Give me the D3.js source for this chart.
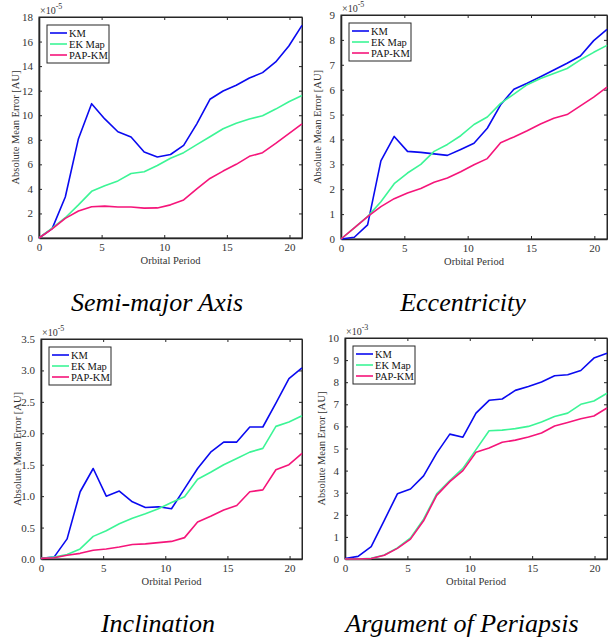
<!DOCTYPE html>
<html>
<head>
<meta charset="utf-8">
<script src="https://cdn.jsdelivr.net/npm/d3@7"></script>
<style>
  body { margin: 0; background: #fff; }
</style>
</head>
<body>
<div id="chart"></div>
<script>
// data
var periods = [0, 1.05, 2.1, 3.15, 4.2, 5.25, 6.3, 7.35, 8.4, 9.45, 10.5, 11.55, 12.6, 13.65, 14.7, 15.75, 16.8, 17.85, 18.9, 19.95, 21];
var seriesNames = ['KM', 'EK Map', 'PAP-KM'];
var xTicks = [0, 5, 10, 15, 20];

// semi-major axis (x1e-5)
var smaKM  = [0, 0.76, 3.34, 8.09, 10.94, 9.7, 8.65, 8.23, 7.0, 6.6, 6.8, 7.55, 9.3, 11.3, 11.97, 12.44, 13.03, 13.47, 14.34, 15.64, 17.32];
var smaEK  = [0, 0.8, 1.65, 2.7, 3.8, 4.25, 4.65, 5.25, 5.4, 5.9, 6.5, 6.95, 7.6, 8.25, 8.9, 9.35, 9.7, 9.95, 10.5, 11.1, 11.6];
var smaPAP = [0, 0.75, 1.6, 2.2, 2.55, 2.6, 2.52, 2.52, 2.43, 2.45, 2.7, 3.1, 4.0, 4.85, 5.45, 6.0, 6.65, 6.95, 7.7, 8.5, 9.3];
var smaTicks = [0, 2, 4, 6, 8, 10, 12, 14, 16, 18];

// eccentricity (x1e-5)
var eccKM  = [0, 0.07, 0.57, 3.14, 4.12, 3.52, 3.48, 3.42, 3.36, 3.6, 3.85, 4.45, 5.39, 6.02, 6.26, 6.52, 6.79, 7.06, 7.35, 7.97, 8.42];
var eccEK  = [0, 0.45, 0.9, 1.5, 2.22, 2.65, 3.0, 3.52, 3.8, 4.15, 4.6, 4.9, 5.45, 5.82, 6.2, 6.45, 6.65, 6.85, 7.2, 7.5, 7.78];
var eccPAP = [0, 0.45, 0.9, 1.3, 1.62, 1.85, 2.03, 2.28, 2.45, 2.7, 2.98, 3.23, 3.87, 4.1, 4.35, 4.62, 4.85, 5.0, 5.35, 5.7, 6.1];
var eccTicks = [0, 1, 2, 3, 4, 5, 6, 7, 8, 9];

// inclination (x1e-5)
var incKM  = [0.01, 0.03, 0.32, 1.07, 1.44, 1.0, 1.08, 0.91, 0.82, 0.83, 0.8, 1.12, 1.44, 1.7, 1.86, 1.86, 2.1, 2.1, 2.48, 2.87, 3.04];
var incEK  = [0.01, 0.03, 0.07, 0.16, 0.36, 0.45, 0.56, 0.65, 0.72, 0.8, 0.9, 0.99, 1.27, 1.38, 1.5, 1.6, 1.7, 1.76, 2.11, 2.18, 2.28];
var incPAP = [0.01, 0.02, 0.06, 0.09, 0.14, 0.16, 0.19, 0.23, 0.24, 0.26, 0.28, 0.34, 0.59, 0.68, 0.78, 0.85, 1.07, 1.1, 1.42, 1.5, 1.68];
var incTicks = [0, 0.5, 1, 1.5, 2, 2.5, 3, 3.5];

// argument of periapsis (x1e-3)
var aopKM  = [0.02, 0.12, 0.56, 1.75, 2.95, 3.17, 3.76, 4.79, 5.65, 5.51, 6.6, 7.18, 7.24, 7.63, 7.81, 8.01, 8.29, 8.34, 8.53, 9.09, 9.31];
var aopEK  = [0, 0, 0.03, 0.18, 0.5, 0.95, 1.8, 2.95, 3.55, 4.1, 4.95, 5.8, 5.83, 5.9, 6.0, 6.2, 6.45, 6.6, 7.0, 7.15, 7.5];
var aopPAP = [0, 0, 0.02, 0.17, 0.48, 0.9, 1.73, 2.88, 3.5, 4.0, 4.83, 5.02, 5.28, 5.38, 5.52, 5.7, 6.02, 6.18, 6.35, 6.47, 6.83];
var aopTicks = [0, 1, 2, 3, 4, 5, 6, 7, 8, 9, 10];

var colors = ['#0a0af0', '#3cf596', '#f5157a'];
var serif = '"Liberation Serif", "DejaVu Serif", serif';

var panels = [
  {title: 'Semi-major Axis', exp: '-5', series: [smaKM, smaEK, smaPAP], ticks: smaTicks,
   box: {left: 39, right: 302, top: 17, bottom: 238}, titleX: 157, titleY: 311},
  {title: 'Eccentricity', exp: '-5', series: [eccKM, eccEK, eccPAP], ticks: eccTicks,
   box: {left: 341, right: 607, top: 15, bottom: 239}, titleX: 463, titleY: 311},
  {title: 'Inclination', exp: '-5', series: [incKM, incEK, incPAP], ticks: incTicks,
   box: {left: 41, right: 302, top: 339, bottom: 559}, titleX: 158, titleY: 632},
  {title: 'Argument of Periapsis', exp: '-3', series: [aopKM, aopEK, aopPAP], ticks: aopTicks,
   box: {left: 345, right: 607, top: 338, bottom: 559}, titleX: 462, titleY: 632}
];

var svg = d3.select('#chart')
  .append('svg')
  .attr('width', 613)
  .attr('height', 643)
  .style('font-family', serif);

panels.forEach(function(p) {
  var b = p.box;
  var x = d3.scaleLinear().domain([0, 21]).range([b.left, b.right]);
  var y = d3.scaleLinear().domain([0, d3.max(p.ticks)]).range([b.bottom, b.top]);
  var g = svg.append('g');

  // frame
  g.append('rect')
    .attr('x', b.left).attr('y', b.top)
    .attr('width', b.right - b.left).attr('height', b.bottom - b.top)
    .attr('fill', 'none').attr('stroke', '#262626').attr('stroke-width', 1);

  // axes, ticks pointing inward
  var axisStyle = function(sel) {
    sel.attr('font-family', null);
    sel.select('.domain').attr('stroke', '#262626').attr('stroke-width', 1.6);
    sel.selectAll('.tick line').attr('stroke', '#262626');
    sel.selectAll('.tick text').attr('fill', '#333')
      .style('font-family', serif).style('font-size', '11px');
  };
  g.append('g')
    .attr('transform', 'translate(0,' + b.bottom + ')')
    .call(d3.axisBottom(x).tickValues(xTicks).tickSizeInner(-3).tickSizeOuter(0).tickPadding(5))
    .call(axisStyle);
  g.append('g')
    .attr('transform', 'translate(' + b.left + ',0)')
    .call(d3.axisLeft(y).tickValues(p.ticks).tickSizeInner(-3).tickSizeOuter(0).tickPadding(6))
    .call(axisStyle);
  g.append('g')
    .attr('transform', 'translate(0,' + b.top + ')')
    .call(d3.axisTop(x).tickValues(xTicks).tickSizeInner(-3).tickSizeOuter(0).tickFormat(''))
    .call(axisStyle)
    .select('.domain').attr('stroke-width', 1);
  g.append('g')
    .attr('transform', 'translate(' + b.right + ',0)')
    .call(d3.axisRight(y).tickValues(p.ticks).tickSizeInner(-3).tickSizeOuter(0).tickFormat(''))
    .call(axisStyle)
    .select('.domain').attr('stroke-width', 1);

  // exponent
  var ex = g.append('text')
    .attr('x', b.left + 1).attr('y', b.top - 3)
    .attr('fill', '#333').style('font-size', '10px');
  ex.append('tspan').text('\u00d710');
  ex.append('tspan').attr('dy', -5).style('font-size', '8px').text(p.exp);

  // lines
  var line = d3.line()
    .x(function(d, i) { return x(periods[i]) })
    .y(function(d) { return y(d) });
  p.series.forEach(function(s, i) {
    g.append('path')
      .datum(s)
      .attr('d', line)
      .attr('fill', 'none')
      .attr('stroke', colors[i])
      .attr('stroke-width', 1.6)
      .attr('stroke-linejoin', 'round');
  });

  // labels
  g.append('text')
    .attr('x', (b.left + b.right) / 2).attr('y', b.bottom + 26)
    .attr('text-anchor', 'middle').attr('fill', '#333').style('font-size', '10.5px')
    .text('Orbital Period');
  g.append('text')
    .attr('transform', 'translate(' + (b.left - 20) + ',' + ((b.top + b.bottom) / 2) + ') rotate(-90)')
    .attr('text-anchor', 'middle').attr('fill', '#333').style('font-size', '10.5px')
    .text('Absolute Mean Error [AU]');

  // legend
  var lg = g.append('g').attr('transform', 'translate(' + (b.left + 8) + ',' + (b.top + 8) + ')');
  lg.append('rect')
    .attr('width', 62).attr('height', 38)
    .attr('fill', '#fff').attr('stroke', '#262626').attr('stroke-width', 1);
  seriesNames.forEach(function(name, i) {
    var ly = 8 + i * 11;
    lg.append('line')
      .attr('x1', 3).attr('x2', 20).attr('y1', ly).attr('y2', ly)
      .attr('stroke', colors[i]).attr('stroke-width', 1.6);
    lg.append('text')
      .attr('x', 22).attr('y', ly + 4)
      .attr('fill', '#111').style('font-size', '10.5px')
      .text(name);
  });

  // title
  g.append('text')
    .attr('x', p.titleX).attr('y', p.titleY)
    .attr('text-anchor', 'middle')
    .style('font-family', '"Liberation Serif", serif')
    .style('font-size', '26px').style('font-style', 'italic')
    .text(p.title);
});
</script>
</body>
</html>
